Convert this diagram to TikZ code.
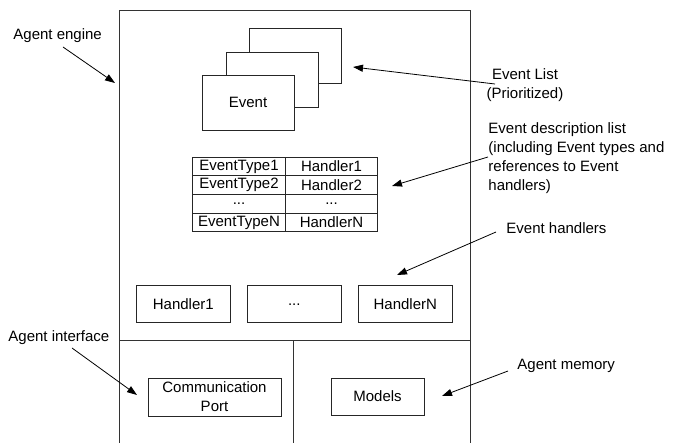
\documentclass[tikz,border=0pt]{standalone}
\usepackage{fontspec}
\setmainfont{Liberation Sans}
\usetikzlibrary{arrows.meta}
\begin{document}
\begin{tikzpicture}[x=1pt,y=-1pt,line width=0.9pt,
  every node/.style={font=\fontsize{15}{19}\selectfont, inner sep=0pt},
  frame/.style={draw=black!80, line width=1pt},
  box/.style={draw=black!85, fill=white, rectangle, align=center},
  card/.style={box, minimum width=92pt, minimum height=55pt},
  cell/.style={box, minimum width=92.6pt, minimum height=18.6pt},
  handler/.style={box, minimum width=93.3pt, minimum height=36.7pt},
  pointer/.style={draw=black, line width=0.8pt, -{Triangle[length=10pt,width=7pt]}},
]
\useasboundingbox (0,0) rectangle (675,443);

% agent frame, open at the bottom
\draw[frame] (119.5,443) -- (119.5,10.5) -- (470.5,10.5) -- (470.5,443);
\draw[frame] (119.5,341) -- (470.5,341);
\draw[frame] (293,341) -- (293,443);

% prioritized event list (stacked cards)
\node[card] (evBack) at (295,55.5) {};
\node[card] (evMid) at (272,79.5) {};
\node[card] (evFront) at (248,102.5) {Event};

% event description table
\node[cell] (t11) at (239,166.6) {EventType1};
\node[cell] (t12) at (331.5,166.6) {Handler1};
\node[cell] (t21) at (239,185.2) {EventType2};
\node[cell] (t22) at (331.5,185.2) {Handler2};
\node[cell] (t31) at (239,203.8) {...};
\node[cell] (t32) at (331.5,203.8) {...};
\node[cell] (t41) at (239,222.4) {EventTypeN};
\node[cell] (t42) at (331.5,222.4) {HandlerN};

% event handlers
\node[handler] (h1) at (183.3,304.3) {Handler1};
\node[handler] (hdots) at (294.3,304.3) {...};
\node[handler] (hN) at (405.3,304.3) {HandlerN};

% interface and memory
\node[box, minimum width=133pt, minimum height=38pt] (port) at (214.5,397) {Communication\\Port};
\node[box, minimum width=93pt, minimum height=37pt] (models) at (377.5,396.5) {Models};

% labels
\node[anchor=base west] (lEngine) at (13,39.5) {Agent engine};
\node[align=center] (lList) at (525,85.3) {Event List\\(Prioritized)};
\node[align=left, anchor=west] (lDesc) at (488,158) {Event description list\\(including Event types and\\references to Event\\handlers)};
\node[anchor=base west] (lHandlers) at (506,234) {Event handlers};
\node[anchor=base west] (lIface) at (8,342) {Agent interface};
\node[anchor=base west] (lMem) at (517,370) {Agent memory};

% pointer ends
\coordinate (sEngine) at (63,47);   \coordinate (eEngine) at (115,83);
\coordinate (sList) at (495,84);    \coordinate (eList) at (353,67);
\coordinate (sDesc) at (488,157);   \coordinate (eDesc) at (392,186);
\coordinate (sHand) at (496,232);   \coordinate (eHand) at (397,275);
\coordinate (sIface) at (72,348);   \coordinate (eIface) at (137,395);
\coordinate (sMem) at (508,371);    \coordinate (eMem) at (442,396);

\draw[pointer] (sEngine) -- (eEngine);
\draw[pointer] (sList) -- (eList);
\draw[pointer] (sDesc) -- (eDesc);
\draw[pointer] (sHand) -- (eHand);
\draw[pointer] (sIface) -- (eIface);
\draw[pointer] (sMem) -- (eMem);
\end{tikzpicture}
\end{document}
